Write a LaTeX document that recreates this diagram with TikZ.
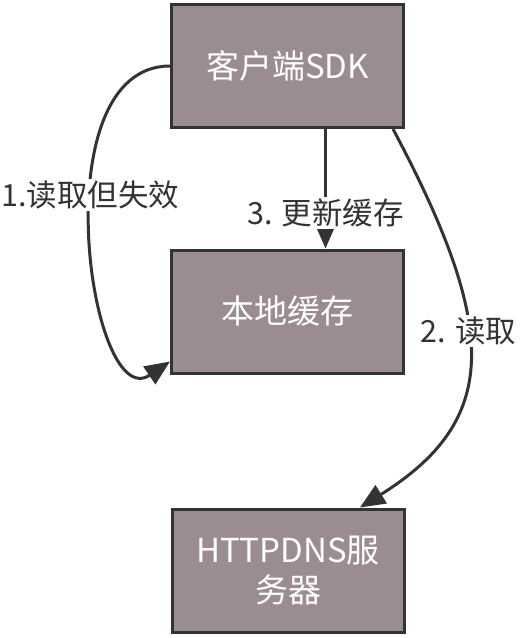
\documentclass[tikz,border=0pt]{standalone}
\usepackage{fontspec}
\setmainfont{Noto Sans CJK SC}
\usetikzlibrary{arrows.meta, positioning}
\definecolor{boxfill}{HTML}{9A8C92}
\definecolor{inkgray}{HTML}{333333}

\begin{document}
\begin{tikzpicture}[
        line width=3pt,
        flow/.style={-{Triangle[length=25pt, width=21pt]}, draw=inkgray},
        every node/.style={font=\fontsize{30.5}{36}\selectfont, text=inkgray},
        box/.style={rectangle, draw=inkgray, fill=boxfill,
            minimum width=232pt, minimum height=123pt, align=center,
            text=white, font=\fontsize{33}{40}\selectfont},
        lbl/.style={fill=white, inner sep=2pt},
        x=1pt,
        y=-1pt
    ]
    \useasboundingbox (0,0) rectangle (523,638);
    \node[box] (sdk) at (287.5,66) {客户端SDK};
    \node[box] (cache) at (287.5,311.5) {本地缓存};
    \node[box] (server) at (288,570.5) {HTTPDNS服\\务器};

    \draw (sdk.west) edge[flow, out=180, in=214, out distance=130pt, in distance=97pt] node[lbl, pos=0.42]{
            1.读取但失效
        } ([yshift=13pt]cache.south west);
    \draw ([xshift=38pt]sdk.south) edge[flow] node[lbl, pos=0.7]{
            3. 更新缓存
        } ([xshift=38pt]cache.north);
    \draw ([xshift=-12pt]sdk.south east) edge[flow, out=298, in=32, out distance=227pt, in distance=165pt] node[lbl, pos=0.42]{
            2. 读取
        } ([xshift=72pt]server.north);
\end{tikzpicture}
\end{document}
